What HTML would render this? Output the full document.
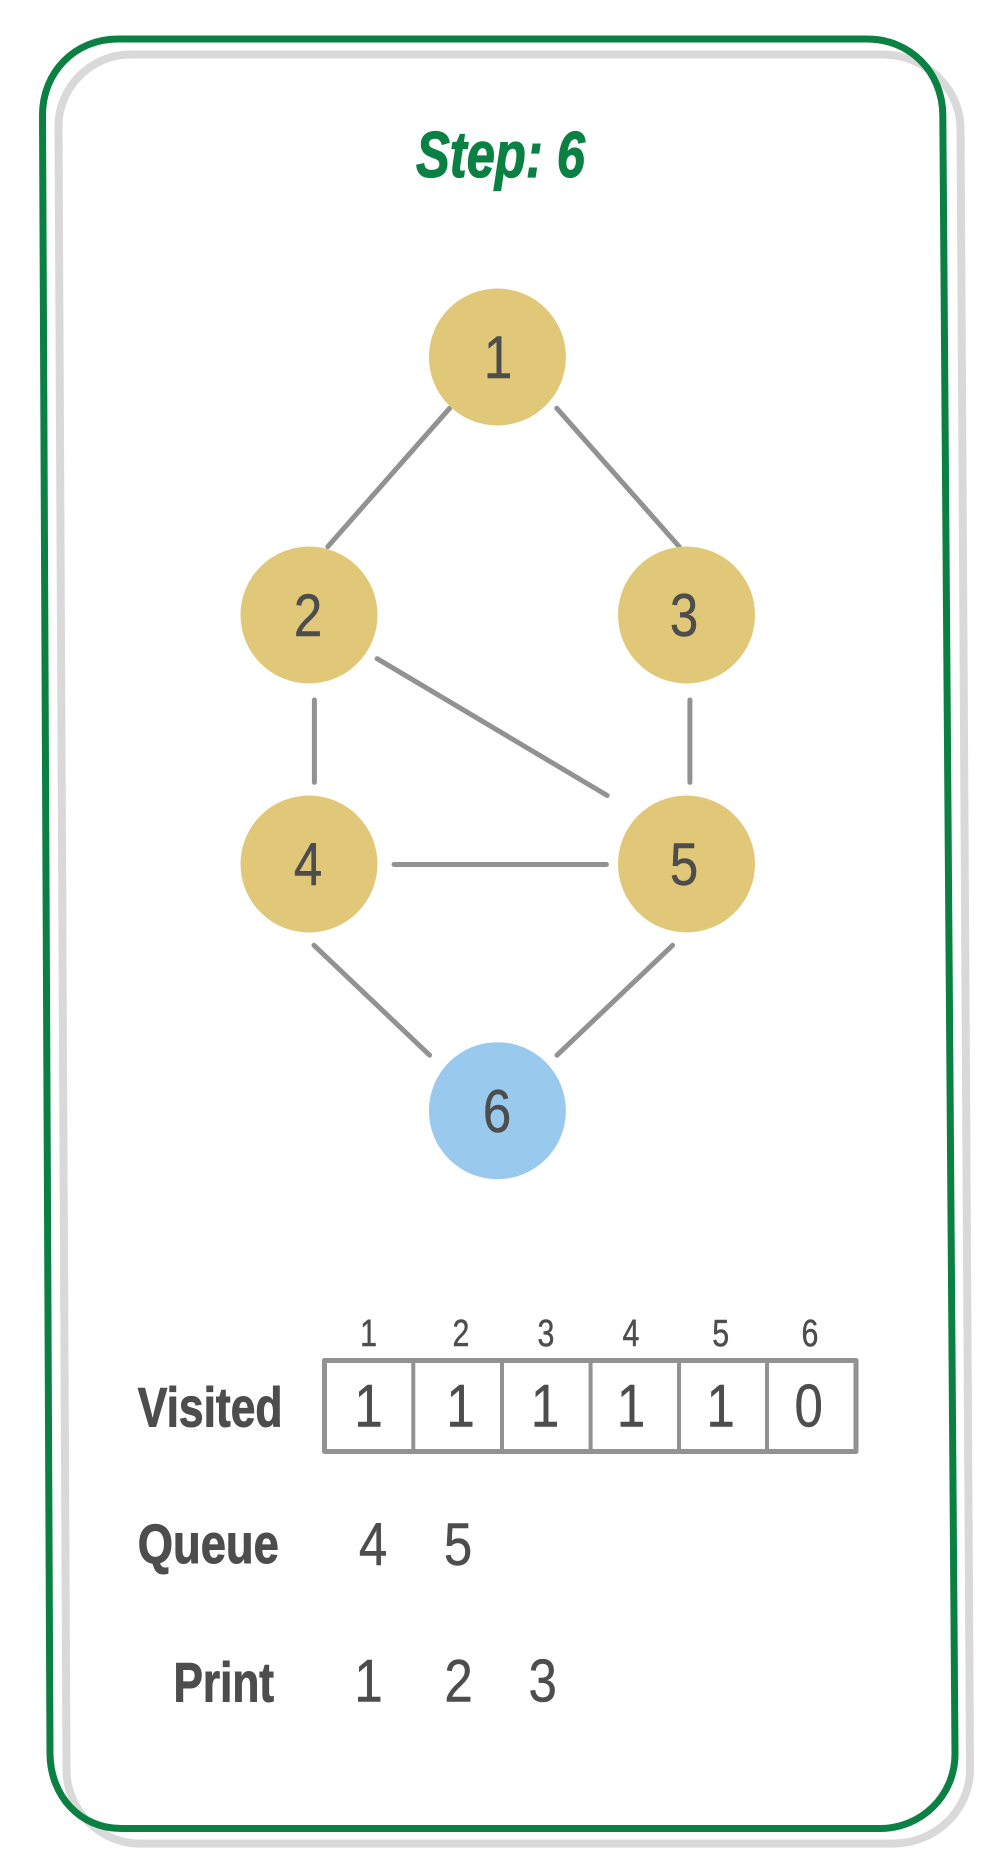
<!DOCTYPE html>
<html><head><meta charset="utf-8"><style>
html,body{margin:0;padding:0;background:#fff}
svg{display:block}
text{font-family:"Liberation Sans",sans-serif;fill:#4d4d4d;stroke:#4d4d4d;stroke-width:.5px}
.d{font-size:60px;text-anchor:middle}
.h{font-size:38px;text-anchor:middle}
.b{font-size:56px;font-weight:bold;stroke-width:1px}
.t{font-size:65px;font-weight:bold;font-style:italic;fill:#0a8043;stroke:#0a8043;stroke-width:1.2px}
</style></head><body>
<svg xmlns="http://www.w3.org/2000/svg" width="1000" height="1870" viewBox="0 0 1000 1870">
<path d="M131 54.5H883C925 54.5 959 88 960.5 126L970 1769C970 1810 936 1843.6 893 1843.6H140C100 1843.6 66 1810 66.5 1769L58.5 126C58.5 88 90 54.5 131 54.5Z" fill="none" stroke="#d9d9d9" stroke-width="8"/>
<path d="M118 39H867C910 39 942.5 72 942.8 115L955 1754C955 1796 921 1828.5 880 1828.5H121C80 1828.5 50.5 1796 50 1754L42.5 115C42.5 72 75 39 118 39Z" fill="none" stroke="#0a8043" stroke-width="7"/>
<text class="t" x="416" y="177" textLength="169" lengthAdjust="spacingAndGlyphs">Step: 6</text>
<g stroke="#929292" stroke-width="5" stroke-linecap="round" fill="none">
<line x1="449.6" y1="408.3" x2="327.8" y2="546.6"/>
<line x1="556.8" y1="408.3" x2="679.2" y2="546.6"/>
<line x1="314.4" y1="700" x2="314.4" y2="782.4"/>
<line x1="689.9" y1="700" x2="689.9" y2="782.4"/>
<line x1="377.2" y1="658.7" x2="607.2" y2="795.5"/>
<line x1="394" y1="864.5" x2="606.4" y2="864.5"/>
<line x1="314" y1="945.3" x2="429.6" y2="1055.2"/>
<line x1="672.6" y1="945.3" x2="557" y2="1055.2"/>
</g>
<g fill="#e1c878">
<circle cx="497.4" cy="357" r="68.5"/>
<circle cx="309" cy="615" r="68.5"/>
<circle cx="686.5" cy="615" r="68.5"/>
<circle cx="309" cy="864" r="68.5"/>
<circle cx="686.5" cy="864" r="68.5"/>
</g>
<circle cx="497.4" cy="1110.7" r="68.5" fill="#99caee"/>
<text class="d" transform="translate(498 378) scale(.85 1)">1</text>
<text class="d" transform="translate(308 636) scale(.85 1)">2</text>
<text class="d" transform="translate(684 636) scale(.85 1)">3</text>
<text class="d" transform="translate(308 885) scale(.85 1)">4</text>
<text class="d" transform="translate(684 885) scale(.85 1)">5</text>
<text class="d" transform="translate(497 1132) scale(.85 1)">6</text>
<text class="h" transform="translate(368.6 1345.8) scale(.8 1)">1</text>
<text class="h" transform="translate(461 1345.8) scale(.8 1)">2</text>
<text class="h" transform="translate(546 1345.8) scale(.8 1)">3</text>
<text class="h" transform="translate(631 1345.8) scale(.8 1)">4</text>
<text class="h" transform="translate(720.7 1345.8) scale(.8 1)">5</text>
<text class="h" transform="translate(810 1345.8) scale(.8 1)">6</text>
<g stroke="#929292" fill="none" stroke-linejoin="round">
<rect x="324.5" y="1360.5" width="531.5" height="91" stroke-width="5"/>
<path d="M413.3 1360V1451M502 1360V1451M590.6 1360V1451M679 1360V1451M767 1360V1451" stroke-width="4"/>
</g>
<text class="d" transform="translate(368.6 1426.7) scale(.85 1)">1</text>
<text class="d" transform="translate(460.5 1426.7) scale(.85 1)">1</text>
<text class="d" transform="translate(545 1426.7) scale(.85 1)">1</text>
<text class="d" transform="translate(631 1426.7) scale(.85 1)">1</text>
<text class="d" transform="translate(720.7 1426.7) scale(.85 1)">1</text>
<text class="d" transform="translate(808.7 1426.7) scale(.85 1)">0</text>
<text class="b" x="137.8" y="1426.7" textLength="144.7" lengthAdjust="spacingAndGlyphs">Visited</text>
<text class="b" x="137.8" y="1563" textLength="141" lengthAdjust="spacingAndGlyphs">Queue</text>
<text class="b" x="173.5" y="1701.4" textLength="100.5" lengthAdjust="spacingAndGlyphs">Print</text>
<text class="d" transform="translate(373 1565) scale(.85 1)">4</text>
<text class="d" transform="translate(458 1565) scale(.85 1)">5</text>
<text class="d" transform="translate(368.6 1701.4) scale(.85 1)">1</text>
<text class="d" transform="translate(458.5 1701.4) scale(.85 1)">2</text>
<text class="d" transform="translate(542.7 1701.4) scale(.85 1)">3</text>
</svg>
</body></html>
